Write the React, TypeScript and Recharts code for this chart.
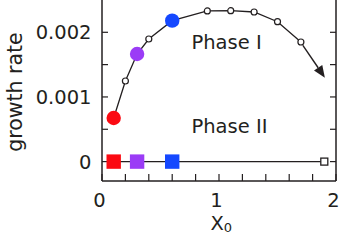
import React from "react";
import { ComposedChart, Line, XAxis, YAxis, ReferenceLine } from "recharts";

// —— phase I: growth rate along X0 (filled = the three coloured runs)
const curveX = [0.1, 0.2, 0.3, 0.4, 0.6, 0.9, 1.1, 1.3, 1.5, 1.7];
const curveRate = [0.000674, 0.001247, 0.001664, 0.001896, 0.00218, 0.00233, 0.002334, 0.002314, 0.002164, 0.00185];

// —— phase II: zero growth
const zeroX = [0.1, 0.3, 0.6, 1.9];
const zeroRate = [0, 0, 0, 0];

// coloured runs, keyed by X0
const runX = [0.1, 0.3, 0.6];
const runColors = ["#fb0a12", "#9b3cf6", "#1548ff"];

// arrow continuing the phase I curve
const arrowX = [1.717, 1.905];
const arrowRate = [0.001799, 0.001298];

const xTicks = [0, 0.2, 0.4, 0.6, 0.8, 1, 1.2, 1.4, 1.6, 1.8, 2];
const xLabels = [0, 1, 2];
const yTicks = [0, 0.0005, 0.001, 0.0015, 0.002];
const yLabels = ["0", "", "0.001", "", "0.002"];

const INK = "#231f20";
const FONT = "'DejaVu Sans', sans-serif";

const curveData = curveX.map((x, i) => ({ x, y: curveRate[i] }));
const zeroData = zeroX.map((x, i) => ({ x, y: zeroRate[i] }));

const runColor = (x: number) => {
  const i = runX.findIndex((v) => Math.abs(v - x) < 1e-9);
  return i >= 0 ? runColors[i] : null;
};

const CurveDot = (p: any) => {
  const c = runColor(p.payload.x);
  if (c) return <circle key={p.key ?? p.index} cx={p.cx} cy={p.cy} r={7.2} fill={c} />;
  return <circle key={p.key ?? p.index} cx={p.cx} cy={p.cy} r={3} fill="#fff" stroke={INK} strokeWidth={1.2} />;
};

const ZeroDot = (p: any) => {
  const c = runColor(p.payload.x);
  if (c) return <rect key={p.key ?? p.index} x={p.cx - 7.2} y={p.cy - 7.2} width={14.4} height={14.4} fill={c} />;
  return (
    <rect key={p.key ?? p.index} x={p.cx - 3.5} y={p.cy - 3.5} width={7} height={7} fill="#fff" stroke={INK} strokeWidth={1.3} />
  );
};

const Arrow = (p: any) => {
  const { x1, y1, x2, y2 } = p;
  const a = Math.atan2(y2 - y1, x2 - x1);
  const len = 12;
  const hw = 5;
  const bx = x2 - len * Math.cos(a);
  const by = y2 - len * Math.sin(a);
  const nx = -Math.sin(a) * hw;
  const ny = Math.cos(a) * hw;
  return (
    <g>
      <line x1={x1} y1={y1} x2={bx} y2={by} stroke={INK} strokeWidth={1.4} />
      <polygon points={`${x2},${y2} ${bx + nx},${by + ny} ${bx - nx},${by - ny}`} fill={INK} />
    </g>
  );
};

const tickStyle = { fontSize: 19.5, fill: INK, fontFamily: FONT };
const axisLine = { stroke: INK, strokeWidth: 1.5 };
const tickLine = { stroke: INK, strokeWidth: 1.2 };

export default function App() {
  return (
    <div style={{ position: "absolute", left: 0, top: 0 }}>
      <ComposedChart width={341} height={240} margin={{ top: -2, right: 4, bottom: 0, left: 0 }}>
        <XAxis
          type="number"
          dataKey="x"
          domain={[0, 2]}
          allowDataOverflow
          ticks={xTicks}
          interval={0}
          tickFormatter={(v: number) => (xLabels.some((l) => Math.abs(l - v) < 1e-9) ? String(Math.round(v)) : "")}
          height={59}
          tickSize={-7}
          tickMargin={19.5}
          tick={{ ...tickStyle, dx: -2.5 }}
          axisLine={axisLine}
          tickLine={tickLine}
        />
        <XAxis
          xAxisId="top"
          orientation="top"
          type="number"
          domain={[0, 2]}
          allowDataOverflow
          ticks={xTicks}
          interval={0}
          tickFormatter={() => ""}
          height={1}
          tickSize={-6}
          axisLine={axisLine}
          tickLine={tickLine}
        />
        <YAxis
          type="number"
          domain={[-0.0003, 0.002515]}
          allowDataOverflow
          ticks={yTicks}
          interval={0}
          tickFormatter={(v: number) => yLabels[yTicks.findIndex((t) => Math.abs(t - v) < 1e-9)] ?? ""}
          width={102}
          tickSize={-6}
          tickMargin={16.5}
          tick={tickStyle}
          axisLine={axisLine}
          tickLine={tickLine}
        />
        <YAxis
          yAxisId="right"
          orientation="right"
          type="number"
          domain={[-0.0003, 0.002515]}
          allowDataOverflow
          ticks={yTicks}
          interval={0}
          tickFormatter={() => ""}
          width={1}
          tickSize={-6}
          axisLine={axisLine}
          tickLine={tickLine}
        />

        <Line
          data={zeroData}
          dataKey="y"
          type="linear"
          stroke={INK}
          strokeWidth={1.3}
          dot={ZeroDot}
          activeDot={false}
          isAnimationActive={false}
        />
        <Line
          data={curveData}
          dataKey="y"
          type="linear"
          stroke={INK}
          strokeWidth={1.3}
          dot={CurveDot}
          activeDot={false}
          isAnimationActive={false}
        />
        <ReferenceLine
          segment={[
            { x: arrowX[0], y: arrowRate[0] },
            { x: arrowX[1], y: arrowRate[1] },
          ]}
          ifOverflow="visible"
          shape={Arrow}
        />

        <text x={191.5} y={48.5} fontSize={19.5} fontFamily={FONT} fill={INK}>
          Phase I
        </text>
        <text x={191.5} y={132.5} fontSize={19.5} fontFamily={FONT} fill={INK}>
          Phase II
        </text>
        <text transform="rotate(-90)" x={-92} y={22} textAnchor="middle" fontSize={20.5} fontFamily={FONT} fill={INK}>
          growth rate
        </text>
        <text x={210.5} y={230} fontSize={19.5} fontFamily={FONT} fill={INK}>
          X<tspan fontSize={13} dy={1.7}>0</tspan>
        </text>
      </ComposedChart>
    </div>
  );
}
